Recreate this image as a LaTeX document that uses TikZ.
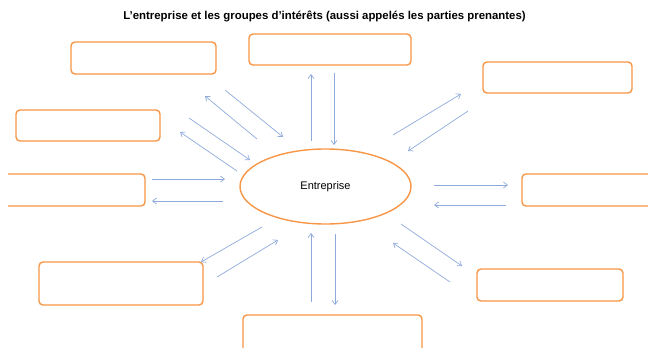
\documentclass[tikz,border=0pt]{standalone}
\usepackage{fontspec}
\setmainfont{Liberation Sans}
\usetikzlibrary{arrows.meta}
\definecolor{boxorange}{HTML}{F79646}
\definecolor{arrowblue}{HTML}{8EAADB}
\begin{document}
\begin{tikzpicture}[x=1pt,y=-1pt,
  stakebox/.style={draw=boxorange,line width=1.4pt,rounded corners=4pt,fill=white,inner sep=0pt},
  flow/.style={draw=arrowblue,line width=0.7pt,-{Straight Barb[length=4pt,width=6pt]}}]
\useasboundingbox (0,0) rectangle (648,348);
% title
\node[font=\bfseries\fontsize{11.4}{13}\selectfont] (title) at (324.5,16) {L’entreprise et les groupes d’intérêts (aussi appelés les parties prenantes)};
% central ellipse
\draw[boxorange,line width=1.4pt] (325.5,186.5) ellipse [x radius=85.5, y radius=37.5];
\node[font=\fontsize{11}{13}\selectfont] (ent) at (325.5,187) {Entreprise};
% boxes
\node[stakebox,minimum width=145pt,minimum height=32pt] (tl) at (143.5,58) {};
\node[stakebox,minimum width=162pt,minimum height=31pt] (tc) at (330,49.5) {};
\node[stakebox,minimum width=149pt,minimum height=31pt] (tr) at (557.5,77.5) {};
\node[stakebox,minimum width=144pt,minimum height=31pt] (lu) at (88,125.5) {};
\begin{scope}
\clip (8,0) rectangle (648,348);
\node[stakebox,minimum width=160pt,minimum height=32pt] (lm) at (65,190) {};
\end{scope}
\node[stakebox,minimum width=160pt,minimum height=32pt] (rm) at (602,190) {};
\node[stakebox,minimum width=164pt,minimum height=43pt] (bl) at (121,283.5) {};
\node[stakebox,minimum width=146pt,minimum height=32pt] (br) at (550,285) {};
\node[stakebox,minimum width=179pt,minimum height=60pt] (bc) at (332.5,345) {};
% arrow end points
\coordinate (a1) at (311,141); \coordinate (a2) at (311,74);
\coordinate (b1) at (334,73);  \coordinate (b2) at (334,145);
\coordinate (c1) at (311,302); \coordinate (c2) at (311,233);
\coordinate (d1) at (335,234); \coordinate (d2) at (335,305);
\coordinate (e1) at (152,179); \coordinate (e2) at (225,179);
\coordinate (f1) at (223,201); \coordinate (f2) at (152,201);
\coordinate (g1) at (434,185); \coordinate (g2) at (508,185);
\coordinate (h1) at (506,205); \coordinate (h2) at (434,205);
\coordinate (i1) at (225,90);  \coordinate (i2) at (283,137);
\coordinate (j1) at (257,139); \coordinate (j2) at (205,96);
\coordinate (k1) at (189,118); \coordinate (k2) at (250,160);
\coordinate (l1) at (237,171); \coordinate (l2) at (180,132);
\coordinate (m1) at (393,135); \coordinate (m2) at (461,94);
\coordinate (n1) at (468,111); \coordinate (n2) at (408,151);
\coordinate (o1) at (262,227); \coordinate (o2) at (201,262);
\coordinate (p1) at (217,277); \coordinate (p2) at (278,240);
\coordinate (q1) at (401,224); \coordinate (q2) at (462,266);
\coordinate (r1) at (450,282); \coordinate (r2) at (393,243);
\foreach \s in {a,b,c,d,e,f,g,h,i,j,k,l,m,n,o,p,q,r}
  \draw[flow] (\s1) -- (\s2);
\end{tikzpicture}
\end{document}
